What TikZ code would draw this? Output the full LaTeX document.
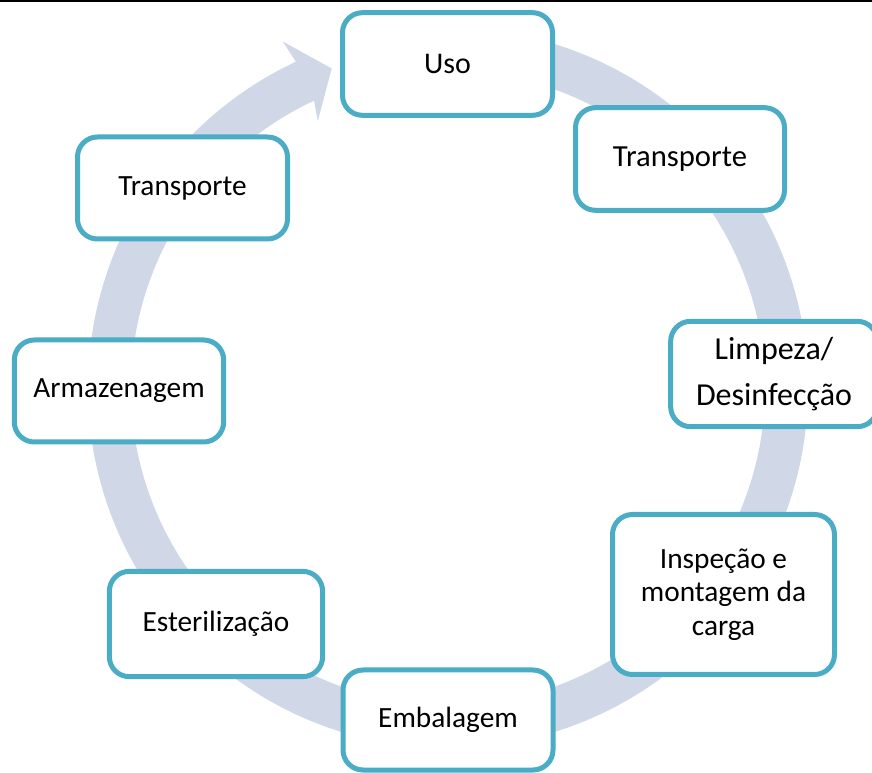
\documentclass[tikz,border=0pt]{standalone}
\usepackage{fontspec}
\setmainfont{Carlito}
\usepackage{tikz}
\usetikzlibrary{positioning}
\definecolor{FrameTeal}{HTML}{4BACC6}
\definecolor{RingGrey}{HTML}{D0D7E7}

\begin{document}
\begin{tikzpicture}[
      x=0.75pt, y=0.75pt,
      stage/.style={draw=FrameTeal, line width=3.75pt, fill=white, rounded corners=15pt,
        align=center, inner sep=0pt, font=\fontsize{22}{26}\selectfont},
      ring/.style={fill=RingGrey}
  ]
    \useasboundingbox (0,0) rectangle (872,-773);
    \clip (0,0) rectangle (872,-773);
    \draw[line width=1.5pt] (0,-1) -- (872,-1);
    % circular arrow behind the stages
    \begin{scope}[shift={(448,-388)}]
      \fill[ring] (85:360) arc[start angle=85, end angle=-245, radius=360]
        -- (115.5:384) -- (110:340) -- (116:297) -- (115:317)
        arc[start angle=-245, end angle=85, radius=317] -- cycle;
    \end{scope}
    \node[stage, minimum width=157.5pt, minimum height=77pt, font=\fontsize{22.5}{27}\selectfont] (uso) at (447.5,-64){Uso};
    \node[stage, minimum width=156.75pt, minimum height=77pt, font=\fontsize{23}{27}\selectfont] (transpB) at (680,-159){Transporte};
    \node[stage, minimum width=155pt, minimum height=79pt, font=\fontsize{24}{34.5}\selectfont] (limpeza) at (774,-374){Limpeza/\\Desinfecção};
    \node[stage, minimum width=166.5pt, minimum height=120pt, font=\fontsize{22}{25}\selectfont] (inspecao) at (723.5,-594.5){Inspeção e\\montagem da\\carga};
    \node[stage, minimum width=157.5pt, minimum height=75pt] (embalagem) at (448,-720){Embalagem};
    \node[stage, minimum width=160pt, minimum height=79pt] (esteril) at (216,-624){Esterilização};
    \node[stage, minimum width=157pt, minimum height=76.5pt] (armaz) at (119,-391){Armazenagem};
    \node[stage, minimum width=157.5pt, minimum height=76.5pt] (transpA) at (182.5,-188){Transporte};
  \end{tikzpicture}
\end{document}
